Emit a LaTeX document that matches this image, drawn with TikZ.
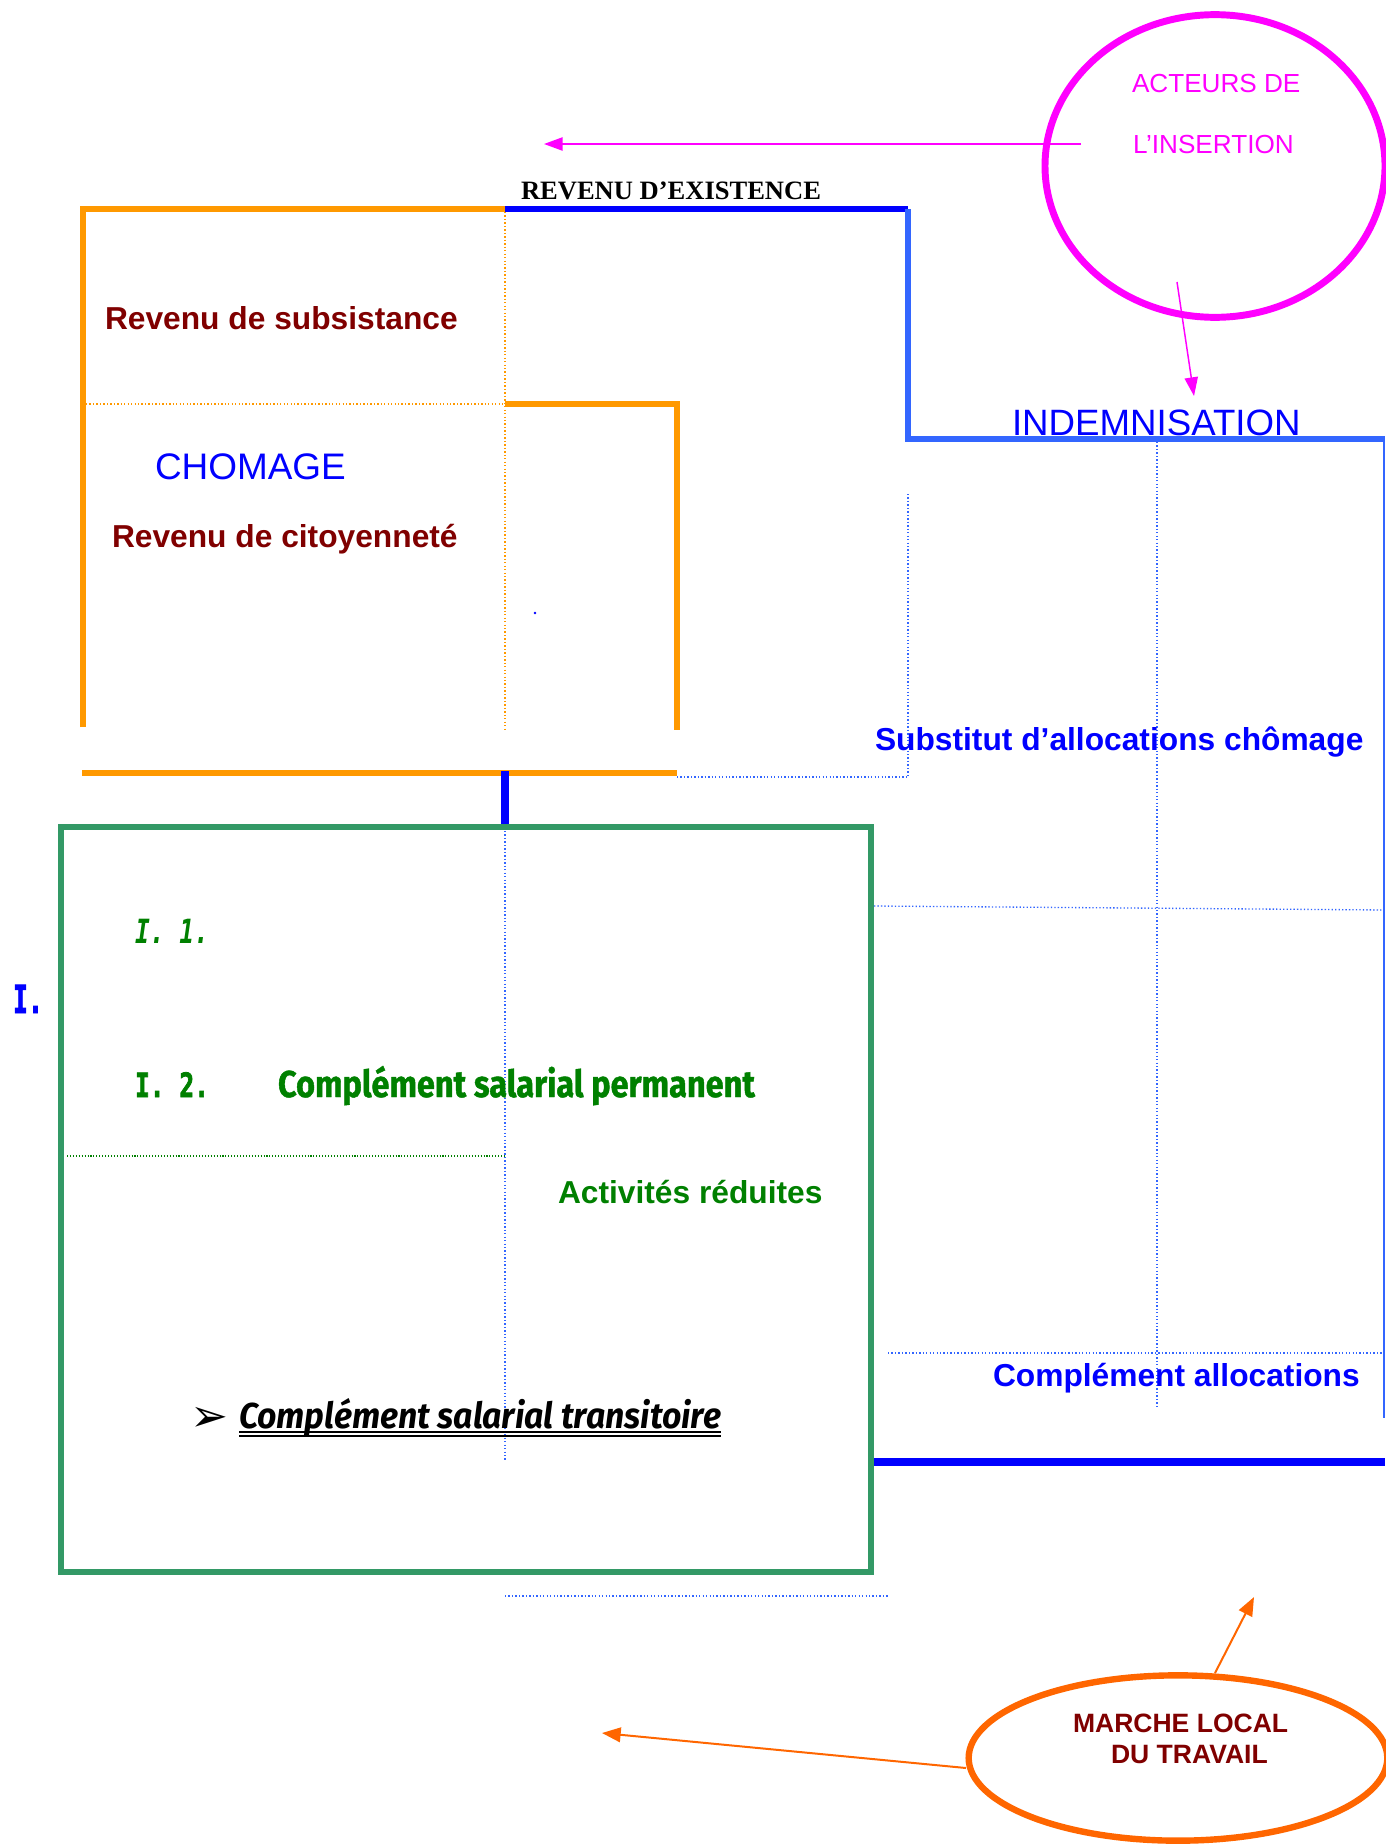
\documentclass[tikz,border=0pt]{standalone}
\usepackage{fontspec}
\setmainfont{Liberation Sans}
\newfontfamily\timesf{Liberation Serif}
\newfontfamily\comicf{Fira Sans}[BoldFeatures={FakeBold=1.2}]
\newfontfamily\monof{DejaVu Sans Mono}[BoldFeatures={FakeBold=2.5}]
\newfontfamily\symf{DejaVu Sans}
\usetikzlibrary{arrows.meta,shapes.geometric,calc}
\definecolor{corange}{HTML}{FF9900}
\definecolor{cblue}{HTML}{0000FF}
\definecolor{lblue}{HTML}{3366FF}
\definecolor{dred}{HTML}{800000}
\definecolor{tgreen}{HTML}{008000}
\definecolor{rgreen}{HTML}{339966}
\definecolor{cmag}{HTML}{FF00FF}
\definecolor{corg}{HTML}{FF6600}
\begin{document}
\begin{tikzpicture}[x=0.75pt,y=-0.75pt,
  txt/.style={inner sep=0pt, outer sep=0pt, anchor=base west},
  orline/.style={draw=corange, line width=4.8pt, line join=miter},
  blline/.style={draw=cblue, line width=4.8pt},
  lbline/.style={draw=lblue, line width=4.8pt, line join=miter},
  dotb/.style={draw=lblue, line width=1pt, dash pattern=on 1pt off 1.6pt},
  doto/.style={draw=corange, line width=1pt, dash pattern=on 1pt off 1.6pt},
  dotg/.style={draw=tgreen, line width=0.8pt, dash pattern=on 0.8pt off 1.4pt},
  magarrow/.style={draw=cmag, line width=1.1pt, -{Triangle[length=14pt,width=10pt]}},
  orgarrow/.style={draw=corg, line width=1.5pt, -{Triangle[length=14pt,width=11pt]}},
  bfa/.style={font=\bfseries\fontsize{23.8}{28}\selectfont}
]
\useasboundingbox (0,0) rectangle (1385,1845);

% ---------- dotted guide lines ----------
\draw[doto] (505,212) -- (505,730);
\draw[doto] (86,404) -- (505,404);
\draw[dotb] (908,494) -- (908,777);
\draw[dotb] (677,777) -- (908,777);
\draw[dotb] (1157,442) -- (1157,1409);
\draw[dotb] (874,906) -- (1385,910);
\draw[dotb] (888,1353) -- (1385,1353);
\draw[dotb] (505,831) -- (505,1461);
\draw[dotb] (505,1596) -- (888,1596);
\draw[dotg] (67,1156) -- (505,1156);

% ---------- orange frame ----------
\draw[orline] (83,727) -- (83,209) -- (505,209);
\draw[orline] (505,404) -- (677,404) -- (677,730);
\draw[orline] (82,773) -- (677,773);

% ---------- blue frame ----------
\draw[blline] (505,209) -- (908,209);
\draw[lbline] (908,209) -- (908,439) -- (1385,439);
\draw[draw=lblue, line width=1.2pt] (1384,439) -- (1384,1418);
\draw[draw=cblue, line width=6pt] (872,1462) -- (1385,1462);
\draw[draw=cblue, line width=6pt] (505,771) -- (505,828);
\fill[cblue] (535,613) circle (1.1pt);

% ---------- green frame ----------
\draw[draw=rgreen, line width=5.2pt] (61,827) rectangle (871,1572);

% ---------- ellipses ----------
\node[draw=cmag, line width=5.2pt, ellipse, minimum width=255pt, minimum height=227pt, inner sep=0pt] (acteurs) at (1215,166) {};
\node[draw=corg, line width=4.8pt, ellipse, minimum width=314pt, minimum height=124pt, inner sep=0pt] (marche) at (1178,1758) {};

% ---------- arrows ----------
\coordinate (a1s) at (1081,144);
\coordinate (a1e) at (544,144);
\coordinate (a2s) at (1177,282);
\coordinate (a2e) at (1194,396);
\coordinate (a3s) at (1215,1673);
\coordinate (a3e) at (1254,1597);
\coordinate (a4s) at (966,1768);
\coordinate (a4e) at (602,1733);
\draw[magarrow] (a1s) -- (a1e);
\draw[magarrow] (a2s) -- (a2e);
\draw[orgarrow] (a3s) -- (a3e);
\draw[orgarrow] (a4s) -- (a4e);

% ---------- texts ----------
\node[txt] (rexist) at (521,199) {\timesf\bfseries\fontsize{19.9}{22}\selectfont REVENU D’EXISTENCE};
\node[txt, text=dred, bfa] (rsub) at (105,329) {Revenu de subsistance};
\node[txt, text=cblue, font=\fontsize{27.7}{32}\selectfont] (chom) at (155,479) {CHOMAGE};
\node[txt, text=dred, bfa] (rcit) at (112,547) {Revenu de citoyenneté};
\node[txt, text=cblue, font=\fontsize{27.5}{32}\selectfont] (indem) at (1012,435) {INDEMNISATION};
\node[txt, text=cblue, bfa] (subst) at (875,750) {Substitut d’allocations chômage};
\node[txt, text=cblue, bfa] (compa) at (993,1386) {Complément allocations};
\node[txt, text=tgreen, bfa] (activ) at (558,1203) {Activités réduites};
\node[txt, text=cmag, font=\fontsize{19.6}{22}\selectfont] (act1) at (1132,92) {ACTEURS DE};
\node[txt, text=cmag, font=\fontsize{19.6}{22}\selectfont] (act2) at (1133,153) {L’INSERTION};
\node[txt, text=dred, font=\bfseries\fontsize{19.9}{22}\selectfont] (mar1) at (1073,1732) {MARCHE LOCAL};
\node[txt, text=dred, font=\bfseries\fontsize{19.9}{22}\selectfont] (mar2) at (1111,1763) {DU TRAVAIL};

\node[txt, text=cblue] (ione) at (13,1013) {\resizebox{22.5pt}{\height}{\monof\bfseries\fontsize{29}{30}\selectfont I.}};
\node[txt, text=tgreen] (i11) at (135,943) {\resizebox{55.5pt}{\height}{\monof\bfseries\itshape\fontsize{25}{28}\selectfont I. 1.}};
\node[txt, text=tgreen] (i12) at (135,1097) {\resizebox{55.5pt}{\height}{\monof\bfseries\fontsize{25}{28}\selectfont I. 2.}};
\node[txt, text=tgreen] (cperm) at (278,1097) {\resizebox{357.75pt}{\height}{\comicf\bfseries\fontsize{28}{30}\selectfont Complément salarial permanent}};
\node[txt] (bullet) at (190,1431) {\symf\fontsize{34}{36}\selectfont ➢};
\node[txt] (ctrans) at (239,1428) {\resizebox{361.5pt}{\height}{\comicf\bfseries\itshape\fontsize{27}{30}\selectfont Complément salarial transitoire}};
\draw[line width=1.3pt] ($(ctrans.base west)+(0,4)$) -- ($(ctrans.base east)+(0,4)$);
\draw[line width=1.3pt] ($(ctrans.base west)+(0,8)$) -- ($(ctrans.base east)+(0,8)$);
\end{tikzpicture}
\end{document}
